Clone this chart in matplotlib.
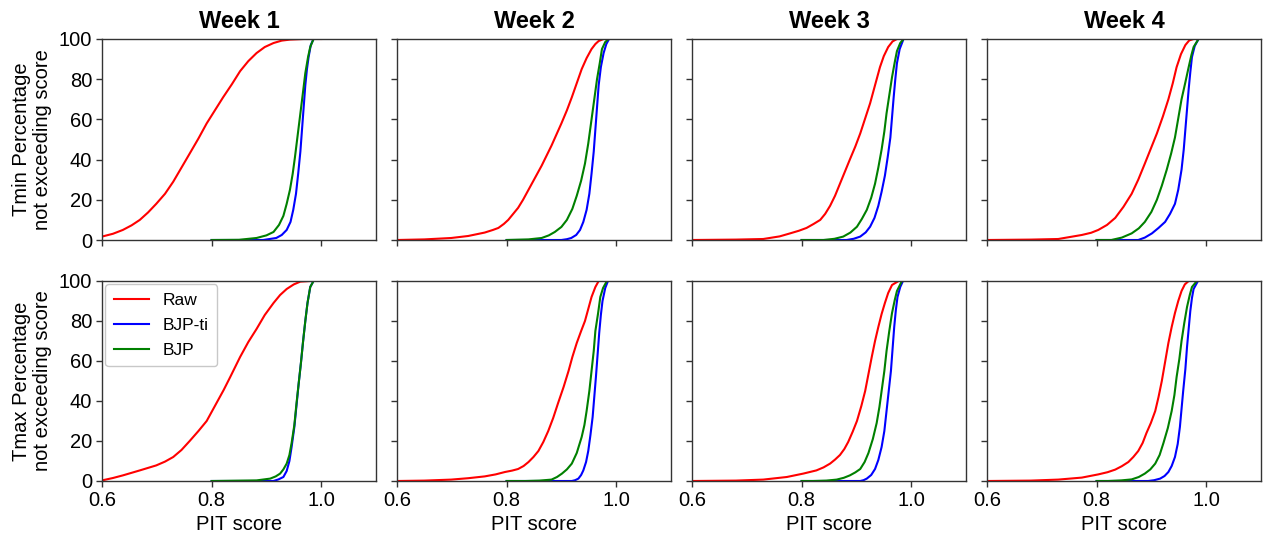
import matplotlib
matplotlib.use("Agg")
import matplotlib.pyplot as plt

plt.rcParams['font.family'] = ['Liberation Sans', 'DejaVu Sans']

weeks = ["Week 1", "Week 2", "Week 3", "Week 4"]
row_labels = ["Tmin Percentage\nnot exceeding score", "Tmax Percentage\nnot exceeding score"]
series_names = ["Raw", "BJP-ti", "BJP"]
series_colors = ["red", "blue", "green"]

# ---------------- Tmin (top row) ----------------
tmin_raw_w1_x = [0.58, 0.600, 0.620, 0.638, 0.654, 0.669, 0.684, 0.699, 0.715, 0.730, 0.745, 0.760, 0.776, 0.791, 0.806, 0.821, 0.837, 0.852, 0.867, 0.882, 0.897, 0.913, 0.928, 0.943, 0.968, 1.0]
tmin_raw_w1_y = [1.0, 1.7, 3.1, 5, 7.3, 10, 13.7, 18, 23, 29, 36, 43, 50.5, 58, 64.5, 71, 77.5, 84, 89, 93, 96, 98, 99.2, 99.7, 100, 100]
tmin_bjpti_w1_x = [0.80, 0.894, 0.918, 0.928, 0.937, 0.944, 0.949, 0.954, 0.958, 0.962, 0.965, 0.968, 0.971, 0.974, 0.977, 0.981, 0.986]
tmin_bjpti_w1_y = [0, 0, 1, 2.5, 5, 9, 15, 23, 33, 44, 55, 66, 77, 85, 91, 97, 100]
tmin_bjp_w1_x = [0.80, 0.850, 0.882, 0.900, 0.913, 0.923, 0.931, 0.937, 0.943, 0.948, 0.952, 0.957, 0.962, 0.967, 0.971, 0.976, 0.980, 0.986]
tmin_bjp_w1_y = [0, 0.1, 1, 2.3, 4, 7.5, 12, 18, 25, 33, 41, 52, 63, 74, 83, 91, 96, 100]

tmin_raw_w2_x = [0.58, 0.600, 0.650, 0.699, 0.730, 0.760, 0.775, 0.785, 0.795, 0.803, 0.812, 0.821, 0.830, 0.840, 0.852, 0.864, 0.873, 0.882, 0.891, 0.900, 0.910, 0.919, 0.928, 0.937, 0.946, 0.955, 0.962, 0.968, 0.977]
tmin_raw_w2_y = [0, 0, 0.3, 1, 2, 3.7, 5, 6, 8, 10, 13, 16, 20, 25, 31, 37, 42, 47, 52.5, 58, 64.5, 71, 78, 85, 90.5, 95, 97.5, 99, 100]
tmin_bjpti_w2_x = [0.80, 0.900, 0.910, 0.918, 0.927, 0.934, 0.940, 0.946, 0.951, 0.955, 0.959, 0.962, 0.965, 0.968, 0.972, 0.977, 0.982, 0.987]
tmin_bjpti_w2_y = [0, 0, 0.4, 1, 2.5, 5, 9, 15, 23, 33, 44, 55, 66, 77, 86, 93, 97.5, 100]
tmin_bjp_w2_x = [0.80, 0.840, 0.864, 0.877, 0.888, 0.900, 0.910, 0.920, 0.928, 0.936, 0.943, 0.949, 0.955, 0.960, 0.965, 0.970, 0.974, 0.980, 0.986]
tmin_bjp_w2_y = [0, 0.3, 1, 2.3, 4, 6.5, 10, 15.5, 22, 29.5, 38, 48, 60, 70, 80, 88, 95, 98.5, 100]

tmin_raw_w3_x = [0.58, 0.600, 0.680, 0.730, 0.760, 0.779, 0.795, 0.809, 0.822, 0.834, 0.843, 0.852, 0.861, 0.870, 0.879, 0.888, 0.898, 0.907, 0.916, 0.925, 0.934, 0.943, 0.950, 0.958, 0.966, 0.974]
tmin_raw_w3_y = [0, 0, 0.2, 0.5, 1.8, 3.3, 4.6, 6, 8, 10, 13, 17, 22, 28, 34, 40, 46.5, 53, 60.5, 68, 77, 86, 91.5, 96, 98.8, 100]
tmin_bjpti_w3_x = [0.80, 0.882, 0.895, 0.907, 0.917, 0.925, 0.933, 0.940, 0.946, 0.952, 0.957, 0.962, 0.965, 0.968, 0.971, 0.974, 0.979, 0.986]
tmin_bjpti_w3_y = [0, 0, 0.6, 1.7, 3.8, 6.6, 11, 17, 24, 32, 41, 51, 61, 71, 80, 88, 95, 100]
tmin_bjp_w3_x = [0.80, 0.840, 0.860, 0.876, 0.889, 0.901, 0.910, 0.919, 0.927, 0.934, 0.940, 0.946, 0.951, 0.955, 0.960, 0.965, 0.970, 0.974, 0.980, 0.986]
tmin_bjp_w3_y = [0, 0, 0.6, 1.7, 3.7, 6.6, 10.5, 15, 21, 28, 36, 45, 54, 63, 72, 81, 88.5, 94, 98, 100]

tmin_raw_w4_x = [0.58, 0.600, 0.680, 0.730, 0.773, 0.790, 0.803, 0.819, 0.834, 0.849, 0.864, 0.876, 0.888, 0.899, 0.910, 0.921, 0.931, 0.939, 0.946, 0.954, 0.962, 0.969, 0.977]
tmin_raw_w4_y = [0, 0, 0.2, 0.5, 2.5, 3.6, 5, 7.5, 11, 16.5, 23, 30, 38, 45.5, 53, 61.5, 70, 78, 86, 92.5, 97, 99.3, 100]
tmin_bjpti_w4_x = [0.80, 0.876, 0.888, 0.901, 0.913, 0.925, 0.934, 0.943, 0.949, 0.955, 0.959, 0.962, 0.965, 0.968, 0.971, 0.974, 0.979, 0.986]
tmin_bjpti_w4_y = [0, 0, 1.2, 3.3, 6, 9, 13, 18, 25, 35, 45, 55, 65, 75, 83.5, 91, 96.5, 100]
tmin_bjp_w4_x = [0.80, 0.827, 0.846, 0.864, 0.877, 0.888, 0.900, 0.910, 0.919, 0.928, 0.936, 0.943, 0.949, 0.955, 0.962, 0.968, 0.973, 0.977, 0.986]
tmin_bjp_w4_y = [0, 0, 1.2, 3.3, 5.8, 9, 14, 20, 27, 35, 43, 51, 60.5, 70, 78.5, 86, 92, 96, 100]

# ---------------- Tmax (bottom row) ----------------
tmax_raw_w1_x = [0.58, 0.600, 0.620, 0.638, 0.669, 0.699, 0.715, 0.730, 0.745, 0.760, 0.776, 0.791, 0.800, 0.809, 0.822, 0.834, 0.843, 0.852, 0.867, 0.882, 0.897, 0.913, 0.925, 0.937, 0.950, 0.962, 0.980]
tmax_raw_w1_y = [0, 0.3, 1.5, 2.8, 5.3, 7.8, 9.7, 12, 15.5, 20, 25, 30, 34.5, 39, 45.5, 52, 57, 62, 69.5, 76, 83, 89, 93, 96, 98.3, 99.7, 100]
tmax_bjpti_w1_x = [0.80, 0.913, 0.922, 0.931, 0.937, 0.942, 0.946, 0.951, 0.955, 0.959, 0.963, 0.967, 0.971, 0.975, 0.980, 0.986]
tmax_bjpti_w1_y = [0, 0, 0.8, 2, 5, 10, 17, 27, 38, 49, 59, 70, 80, 89, 97, 100]
tmax_bjp_w1_x = [0.80, 0.882, 0.907, 0.917, 0.925, 0.931, 0.937, 0.942, 0.946, 0.951, 0.955, 0.959, 0.963, 0.967, 0.971, 0.975, 0.980, 0.986]
tmax_bjp_w1_y = [0, 0.3, 1.2, 2.3, 3.7, 5.8, 8.7, 13, 19, 28, 39, 49, 59, 70, 80, 89, 97, 100]

tmax_raw_w2_x = [0.58, 0.600, 0.650, 0.699, 0.730, 0.760, 0.780, 0.797, 0.810, 0.821, 0.831, 0.840, 0.849, 0.858, 0.867, 0.876, 0.885, 0.894, 0.904, 0.913, 0.920, 0.928, 0.936, 0.943, 0.949, 0.955, 0.962, 0.968]
tmax_raw_w2_y = [0, 0, 0.2, 0.7, 1.4, 2.3, 3.3, 4.5, 5.2, 6, 7.5, 9.5, 12, 15, 19.5, 25, 31.5, 39, 47, 55, 62, 69, 75, 80, 86, 92, 97, 100]
tmax_bjpti_w2_x = [0.80, 0.919, 0.925, 0.931, 0.936, 0.940, 0.945, 0.949, 0.953, 0.957, 0.960, 0.963, 0.966, 0.969, 0.972, 0.975, 0.980, 0.985]
tmax_bjpti_w2_y = [0, 0, 0.4, 1.2, 3, 5.3, 9.5, 15, 23, 32, 42, 52, 63, 74, 83, 90, 96.5, 100]
tmax_bjp_w2_x = [0.80, 0.834, 0.860, 0.882, 0.892, 0.901, 0.910, 0.919, 0.928, 0.937, 0.942, 0.946, 0.951, 0.955, 0.959, 0.962, 0.967, 0.971, 0.976, 0.983]
tmax_bjp_w2_y = [0, 0, 0.2, 0.7, 2, 3.7, 5.8, 8.7, 14, 22, 28, 35, 45, 55, 65, 75, 84, 92, 96.5, 100]

tmax_raw_w3_x = [0.58, 0.600, 0.680, 0.730, 0.773, 0.803, 0.827, 0.840, 0.852, 0.861, 0.870, 0.878, 0.885, 0.893, 0.901, 0.909, 0.916, 0.922, 0.928, 0.934, 0.940, 0.946, 0.952, 0.958, 0.965, 0.977]
tmax_raw_w3_y = [0, 0, 0.2, 0.7, 2, 3.7, 5.3, 6.8, 8.7, 10.7, 13, 16, 19.5, 24.5, 30, 37.5, 45, 53.5, 62, 70, 77, 83.5, 89, 94, 98, 100]
tmax_bjpti_w3_x = [0.80, 0.907, 0.913, 0.919, 0.927, 0.934, 0.940, 0.946, 0.951, 0.955, 0.959, 0.963, 0.966, 0.969, 0.972, 0.975, 0.980, 0.985]
tmax_bjpti_w3_y = [0, 0, 0.4, 1.2, 3, 6, 10.5, 17, 25, 35, 45, 55, 66, 77, 85.5, 92, 97, 100]
tmax_bjp_w3_x = [0.80, 0.821, 0.845, 0.864, 0.877, 0.888, 0.898, 0.907, 0.915, 0.922, 0.930, 0.937, 0.942, 0.946, 0.951, 0.955, 0.960, 0.965, 0.970, 0.974, 0.983]
tmax_bjp_w3_y = [0, 0, 0.2, 0.7, 1.6, 2.8, 4.3, 6, 9.5, 14, 21, 29, 37, 45, 55, 65, 75, 84, 90.5, 95, 100]

tmax_raw_w4_x = [0.58, 0.600, 0.680, 0.730, 0.773, 0.803, 0.820, 0.834, 0.846, 0.858, 0.867, 0.876, 0.884, 0.891, 0.899, 0.907, 0.913, 0.919, 0.925, 0.931, 0.937, 0.943, 0.949, 0.955, 0.961, 0.968]
tmax_raw_w4_y = [0, 0, 0.2, 0.7, 1.7, 3.3, 4.4, 5.7, 7.4, 9.5, 12, 15, 19, 24, 29, 35, 42, 50, 59.5, 69, 77, 84, 90, 95, 98.3, 100]
tmax_bjpti_w4_x = [0.80, 0.894, 0.905, 0.916, 0.924, 0.931, 0.937, 0.943, 0.948, 0.952, 0.955, 0.958, 0.962, 0.965, 0.968, 0.971, 0.974, 0.977, 0.985]
tmax_bjpti_w4_y = [0, 0, 0.4, 1.2, 2.5, 4.5, 7.5, 12, 18.5, 27, 36, 45, 56, 67, 76, 85, 91.5, 96, 100]
tmax_bjp_w4_x = [0.80, 0.821, 0.845, 0.864, 0.877, 0.888, 0.898, 0.907, 0.915, 0.922, 0.930, 0.937, 0.942, 0.946, 0.951, 0.955, 0.960, 0.965, 0.970, 0.974, 0.983]
tmax_bjp_w4_y = [0, 0, 0.3, 0.8, 2, 3.7, 5.8, 8.7, 13, 19, 26.5, 35, 43, 52, 61, 70, 79, 87, 93, 97, 100]

data = [
    [
        [(tmin_raw_w1_x, tmin_raw_w1_y), (tmin_bjpti_w1_x, tmin_bjpti_w1_y), (tmin_bjp_w1_x, tmin_bjp_w1_y)],
        [(tmin_raw_w2_x, tmin_raw_w2_y), (tmin_bjpti_w2_x, tmin_bjpti_w2_y), (tmin_bjp_w2_x, tmin_bjp_w2_y)],
        [(tmin_raw_w3_x, tmin_raw_w3_y), (tmin_bjpti_w3_x, tmin_bjpti_w3_y), (tmin_bjp_w3_x, tmin_bjp_w3_y)],
        [(tmin_raw_w4_x, tmin_raw_w4_y), (tmin_bjpti_w4_x, tmin_bjpti_w4_y), (tmin_bjp_w4_x, tmin_bjp_w4_y)],
    ],
    [
        [(tmax_raw_w1_x, tmax_raw_w1_y), (tmax_bjpti_w1_x, tmax_bjpti_w1_y), (tmax_bjp_w1_x, tmax_bjp_w1_y)],
        [(tmax_raw_w2_x, tmax_raw_w2_y), (tmax_bjpti_w2_x, tmax_bjpti_w2_y), (tmax_bjp_w2_x, tmax_bjp_w2_y)],
        [(tmax_raw_w3_x, tmax_raw_w3_y), (tmax_bjpti_w3_x, tmax_bjpti_w3_y), (tmax_bjp_w3_x, tmax_bjp_w3_y)],
        [(tmax_raw_w4_x, tmax_raw_w4_y), (tmax_bjpti_w4_x, tmax_bjpti_w4_y), (tmax_bjp_w4_x, tmax_bjp_w4_y)],
    ],
]

xticks = [0.6, 0.8, 1.0]
xtick_labels = ["0.6", "0.8", "1.0"]
yticks = [0, 20, 40, 60, 80, 100]

W, H = 1263, 541
fig = plt.figure(figsize=(W / 100, H / 100), dpi=100)

lefts = [102, 397, 692, 987]
ax_w = 274
rows_px = [(39, 240), (281, 481)]

for r in range(2):
    top, bot = rows_px[r]
    for c in range(4):
        ax = fig.add_axes([lefts[c] / W, (H - bot) / H, ax_w / W, (bot - top) / H])
        for s in range(3):
            xs, ys = data[r][c][s]
            ax.plot(xs, ys, color=series_colors[s], lw=1.5, label=series_names[s],
                    solid_joinstyle='round')
        ax.set_xlim(0.6, 1.1)
        ax.set_ylim(0, 100)
        ax.set_xticks(xticks)
        ax.set_yticks(yticks)
        ax.tick_params(direction='out', length=4, width=1, labelsize=14.5,
                       colors='#333333', labelcolor='black', pad=3)
        for sp in ax.spines.values():
            sp.set_color('#333333')
            sp.set_linewidth(1.0)
        if r == 0:
            ax.set_xticklabels([])
            ax.set_title(weeks[c], fontsize=17, fontweight='bold', pad=8)
        else:
            ax.set_xticklabels(xtick_labels)
            ax.set_xlabel("PIT score", fontsize=14.5, labelpad=4)
        if c == 0:
            ax.set_ylabel(row_labels[r], fontsize=14.5, labelpad=5, linespacing=1.1)
        else:
            ax.set_yticklabels([])
        if r == 1 and c == 0:
            leg = ax.legend(loc='upper left', fontsize=12.5, frameon=True, fancybox=True,
                            borderpad=0.5, handlelength=2.0, labelspacing=0.55,
                            handletextpad=0.8, borderaxespad=0.2)
            leg.get_frame().set_edgecolor('#bbbbbb')
            leg.get_frame().set_linewidth(1.0)

fig.savefig("out.png", dpi=100)
